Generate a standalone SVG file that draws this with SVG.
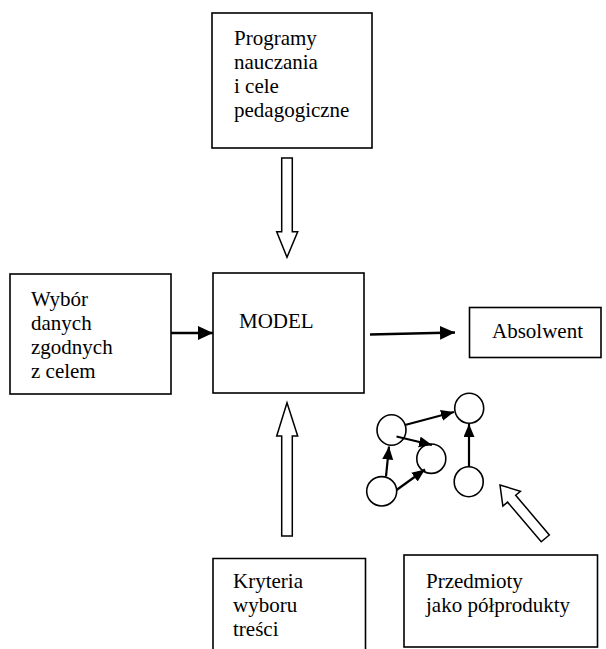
<svg xmlns="http://www.w3.org/2000/svg" width="606" height="649" viewBox="0 0 606 649">
<style>
.box{fill:#fff;stroke:#000;stroke-width:1.6}
text{font-family:'Liberation Serif','DejaVu Serif',serif;font-size:21px;fill:#000}
.c{fill:#fff;stroke:#000;stroke-width:1.6}
.ln{stroke:#000;stroke-width:2.4;fill:none}
.ln2{stroke:#000;stroke-width:2.2;fill:none}
.hollow{fill:#fff;stroke:#000;stroke-width:1.5;stroke-linejoin:miter}
</style>
<defs>
<marker id="ah" markerUnits="userSpaceOnUse" markerWidth="16" markerHeight="14" refX="15" refY="7" orient="auto">
<path d="M0,0 L15,7 L0,14 z" fill="#000"/>
</marker>
<marker id="ahs" markerUnits="userSpaceOnUse" markerWidth="14" markerHeight="12" refX="13" refY="5.5" orient="auto">
<path d="M0,0 L13,5.5 L0,11 z" fill="#000"/>
</marker>
</defs>

<g id="node-programy" font-family="Liberation Serif, serif">
<rect class="box" x="212" y="13" width="160" height="135"/>
<text x="234" y="45">Programy</text>
<text x="234" y="69">nauczania</text>
<text x="234" y="93">i cele</text>
<text x="234" y="117">pedagogiczne</text>
</g>

<g id="node-wybor">
<rect class="box" x="10" y="274" width="161" height="120"/>
<text x="31" y="306">Wybór</text>
<text x="31" y="330">danych</text>
<text x="31" y="354">zgodnych</text>
<text x="31" y="378">z celem</text>
</g>

<g id="node-model">
<rect class="box" x="213" y="273" width="151" height="120"/>
<text x="239" y="328">MODEL</text>
</g>

<g id="node-absolwent">
<rect class="box" x="469.5" y="307.5" width="131.5" height="50"/>
<text x="492" y="338">Absolwent</text>
</g>

<g id="node-kryteria">
<path class="box" d="M213,652 L213,558.5 L365.5,558.5 L365.5,652"/>
<text x="233" y="588">Kryteria</text>
<text x="233" y="612">wyboru</text>
<text x="233" y="636">treści</text>
</g>

<g id="node-przedmioty">
<rect class="box" x="404" y="555" width="193.5" height="92"/>
<text x="426" y="588">Przedmioty</text>
<text x="426" y="612">jako półprodukty</text>
</g>

<g id="node-circle-a"><ellipse class="c" cx="391.5" cy="430" rx="14.5" ry="15.3"/></g>
<g id="node-circle-b"><ellipse class="c" cx="469.2" cy="408.3" rx="14.5" ry="15"/></g>
<g id="node-circle-c"><ellipse class="c" cx="431.3" cy="458.7" rx="14.5" ry="14.7"/></g>
<g id="node-circle-d"><ellipse class="c" cx="381.7" cy="491.3" rx="15" ry="14.7"/></g>
<g id="node-circle-e"><ellipse class="c" cx="468.7" cy="481.7" rx="14.5" ry="15"/></g>

<g id="connectors">
<path class="hollow" d="M281.7,158 L292.3,158 L292.3,231.7 L297.7,231.7 L287,257.3 L276.7,231.7 L281.7,231.7 z"/>
<path class="hollow" d="M281.7,536 L292.3,536 L292.3,436 L297.7,436 L287,402.7 L276.7,436 L281.7,436 z"/>
<path class="hollow" transform="translate(500,485) rotate(-40.3)" d="M0,0 L11.5,18 L5.3,18 L5.3,70 L-5.3,70 L-5.3,18 L-11.5,18 z"/>
<line class="ln" x1="171" y1="333" x2="213" y2="333" marker-end="url(#ah)"/>
<line class="ln" x1="370" y1="334.5" x2="455" y2="332.5" marker-end="url(#ah)"/>
<line class="ln2" x1="405" y1="425" x2="454" y2="412" marker-end="url(#ahs)"/>
<line class="ln2" x1="396.5" y1="436.5" x2="432" y2="445" marker-end="url(#ahs)"/>
<line class="ln2" x1="386" y1="476.5" x2="389" y2="446.5" marker-end="url(#ahs)"/>
<line class="ln2" x1="396.5" y1="490" x2="425" y2="469.5" marker-end="url(#ahs)"/>
<line class="ln2" x1="469" y1="467" x2="469" y2="424" marker-end="url(#ahs)"/>
</g>
</svg>
